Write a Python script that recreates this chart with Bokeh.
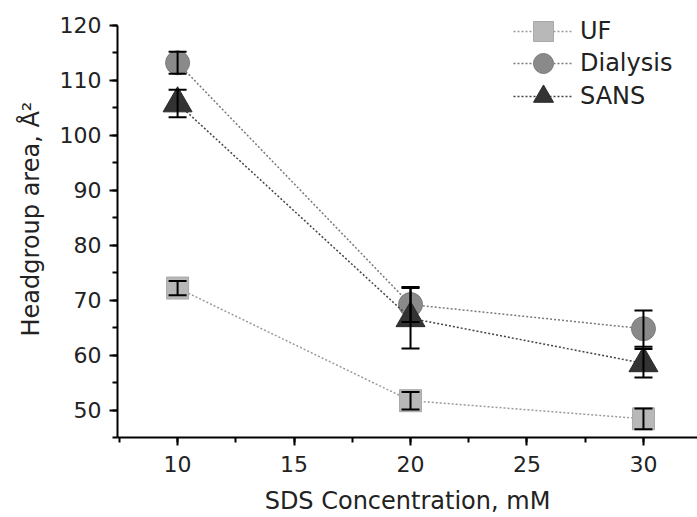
from bokeh.plotting import figure
from bokeh.models import ColumnDataSource, Whisker, TeeHead, SingleIntervalTicker, Legend, LegendItem, Range1d
from bokeh.embed import file_html
from bokeh.resources import INLINE

conc = [10, 20, 30]
uf = [72.2, 51.7, 48.4]
uf_err = [1.3, 1.6, 1.9]
dialysis = [113.2, 69.2, 64.8]
dialysis_err = [2.0, 3.2, 3.3]
sans = [105.8, 66.7, 58.5]
sans_err = [2.5, 5.5, 2.6]

FONT = "DejaVu Sans"

# frame reaches the top edge so the legend is not clipped; the axis itself stops at 120
p = figure(width=697, height=517, output_backend="svg", toolbar_location=None,
           x_range=Range1d(7.42, 32.32), y_range=Range1d(45, 124.54),
           min_border_left=117, min_border_right=0, min_border_top=0, min_border_bottom=79)
p.outline_line_color = None
p.grid.grid_line_color = None
p.background_fill_color = "white"
p.border_fill_color = "white"

p.xaxis.ticker = SingleIntervalTicker(interval=5, num_minor_ticks=2)
p.yaxis.ticker = SingleIntervalTicker(interval=10, num_minor_ticks=2)
p.yaxis.bounds = (45, 120)
for ax in (p.xaxis, p.yaxis):
    ax.axis_line_width = 2
    ax.axis_line_color = "black"
    ax.major_tick_line_width = 2
    ax.minor_tick_line_width = 2
    ax.major_tick_out = 8
    ax.major_tick_in = 0
    ax.minor_tick_out = 5
    ax.minor_tick_in = 0
    ax.major_label_text_font = FONT
    ax.major_label_text_font_size = "22px"
    ax.major_label_text_color = "#222222"
    ax.axis_label_text_font = FONT
    ax.axis_label_text_font_size = "24px"
    ax.axis_label_text_font_style = "normal"
    ax.axis_label_text_color = "#222222"
p.xaxis.axis_label = "SDS Concentration, mM"
p.yaxis.axis_label = "Headgroup area, Å²"
p.xaxis.major_label_standoff = 10
p.yaxis.major_label_standoff = 8
p.xaxis.axis_label_standoff = 12
p.yaxis.axis_label_standoff = 12

series = [
    ("UF", uf, uf_err, "square", 22, "#b8b8b8", "#a8a8a8", "#9a9a9a"),
    ("Dialysis", dialysis, dialysis_err, "circle", 24, "#8a8a8a", "#7a7a7a", "#7a7a7a"),
    ("SANS", sans, sans_err, "triangle", 29, "#333333", "#2a2a2a", "#444444"),
]

# one single-entry legend per series, stacked ~32 px apart (screen offsets from frame bottom-left)
legend_bottoms = [381, 349, 316]

for (name, vals, err, marker, size, fill, edge, lcol), lb in zip(series, legend_bottoms):
    src = ColumnDataSource(dict(x=conc, y=vals,
                                upper=[v + e for v, e in zip(vals, err)],
                                lower=[v - e for v, e in zip(vals, err)]))
    ln = p.line("x", "y", source=src, line_color=lcol, line_width=1.5, line_dash="2 2")
    sc = p.scatter("x", "y", source=src, marker=marker, size=size,
                   fill_color=fill, line_color=edge, line_width=1)
    w = Whisker(source=src, base="x", upper="upper", lower="lower", level="overlay",
                line_color="black", line_width=2,
                upper_head=TeeHead(size=18, line_color="black", line_width=2),
                lower_head=TeeHead(size=18, line_color="black", line_width=2))
    p.add_layout(w)
    lg = Legend(items=[LegendItem(label=name, renderers=[ln, sc])],
                location=(396, lb), glyph_width=60, glyph_height=50,
                spacing=0, padding=0, margin=0, label_standoff=7,
                label_text_font=FONT, label_text_font_size="24px", label_text_color="#222222",
                border_line_color=None, background_fill_alpha=0)
    p.add_layout(lg)

open("out.html", "w").write(file_html(p, INLINE))
